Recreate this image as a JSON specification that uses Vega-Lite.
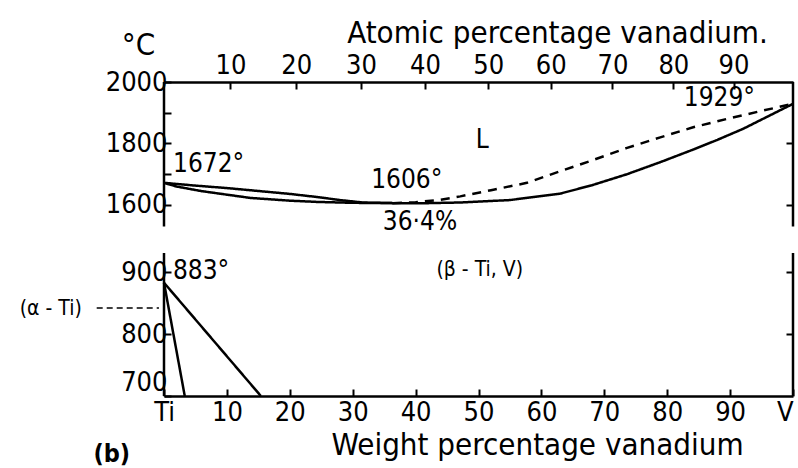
{
  "$schema": "https://vega.github.io/schema/vega-lite/v6.json",
  "width": 629,
  "height": 314,
  "autosize": {"type": "none"},
  "padding": {"left": 164, "top": 82, "right": 5, "bottom": 72},
  "background": "white",
  "config": {
    "view": {"stroke": null},
    "font": "DejaVu Sans Condensed, DejaVu Sans",
    "axis": {
      "labelFont": "DejaVu Sans Condensed, DejaVu Sans",
      "labelFontSize": 27,
      "labelColor": "black",
      "titleFont": "DejaVu Sans Condensed, DejaVu Sans",
      "titleFontSize": 31,
      "titleFontWeight": "normal",
      "titleColor": "black",
      "domainColor": "black",
      "domainWidth": 2.5,
      "tickColor": "black",
      "tickWidth": 2,
      "tickSize": -7,
      "grid": false,
      "labelFlush": false,
      "labelOverlap": false
    }
  },
  "datasets": {
    "curves": [
      {"curve": "liquidus_Ti", "style": "solid", "wt": 0, "T": 1672},
      {"curve": "liquidus_Ti", "style": "solid", "wt": 5, "T": 1663},
      {"curve": "liquidus_Ti", "style": "solid", "wt": 10, "T": 1655},
      {"curve": "liquidus_Ti", "style": "solid", "wt": 13.7, "T": 1648},
      {"curve": "liquidus_Ti", "style": "solid", "wt": 20, "T": 1636},
      {"curve": "liquidus_Ti", "style": "solid", "wt": 24.3, "T": 1626},
      {"curve": "liquidus_Ti", "style": "solid", "wt": 28, "T": 1616},
      {"curve": "liquidus_Ti", "style": "solid", "wt": 31.6, "T": 1608},
      {"curve": "liquidus_Ti", "style": "solid", "wt": 36.4, "T": 1606},
      {"curve": "liquidus_V", "style": "dashed", "wt": 36.4, "T": 1606},
      {"curve": "liquidus_V", "style": "dashed", "wt": 40, "T": 1609},
      {"curve": "liquidus_V", "style": "dashed", "wt": 44, "T": 1617},
      {"curve": "liquidus_V", "style": "dashed", "wt": 47.1, "T": 1628},
      {"curve": "liquidus_V", "style": "dashed", "wt": 52, "T": 1648},
      {"curve": "liquidus_V", "style": "dashed", "wt": 57.7, "T": 1672},
      {"curve": "liquidus_V", "style": "dashed", "wt": 63, "T": 1710},
      {"curve": "liquidus_V", "style": "dashed", "wt": 68.2, "T": 1746},
      {"curve": "liquidus_V", "style": "dashed", "wt": 73.5, "T": 1785},
      {"curve": "liquidus_V", "style": "dashed", "wt": 78.9, "T": 1820},
      {"curve": "liquidus_V", "style": "dashed", "wt": 84, "T": 1852},
      {"curve": "liquidus_V", "style": "dashed", "wt": 89.5, "T": 1880},
      {"curve": "liquidus_V", "style": "dashed", "wt": 95, "T": 1906},
      {"curve": "liquidus_V", "style": "dashed", "wt": 100, "T": 1929},
      {"curve": "solidus", "style": "solid", "wt": 0, "T": 1672},
      {"curve": "solidus", "style": "solid", "wt": 2, "T": 1660},
      {"curve": "solidus", "style": "solid", "wt": 6, "T": 1645},
      {"curve": "solidus", "style": "solid", "wt": 13.7, "T": 1623},
      {"curve": "solidus", "style": "solid", "wt": 20, "T": 1614},
      {"curve": "solidus", "style": "solid", "wt": 24.3, "T": 1610},
      {"curve": "solidus", "style": "solid", "wt": 30, "T": 1607},
      {"curve": "solidus", "style": "solid", "wt": 36.4, "T": 1606},
      {"curve": "solidus", "style": "solid", "wt": 42, "T": 1606},
      {"curve": "solidus", "style": "solid", "wt": 47, "T": 1608},
      {"curve": "solidus", "style": "solid", "wt": 55, "T": 1616},
      {"curve": "solidus", "style": "solid", "wt": 63, "T": 1637},
      {"curve": "solidus", "style": "solid", "wt": 68, "T": 1664},
      {"curve": "solidus", "style": "solid", "wt": 73.6, "T": 1700},
      {"curve": "solidus", "style": "solid", "wt": 79, "T": 1740},
      {"curve": "solidus", "style": "solid", "wt": 84.1, "T": 1780},
      {"curve": "solidus", "style": "solid", "wt": 88, "T": 1812},
      {"curve": "solidus", "style": "solid", "wt": 92.1, "T": 1848},
      {"curve": "solidus", "style": "solid", "wt": 96, "T": 1888},
      {"curve": "solidus", "style": "solid", "wt": 100, "T": 1929},
      {"curve": "alpha_beta", "style": "solid", "wt": 0, "T": 883},
      {"curve": "alpha_beta", "style": "solid", "wt": 3.3, "T": 700},
      {"curve": "beta_alpha", "style": "solid", "wt": 0, "T": 883},
      {"curve": "beta_alpha", "style": "solid", "wt": 15.4, "T": 700}
    ],
    "frame": [
      {"x": 0, "y": 1530, "y2": 2000},
      {"x": 0, "y": 700, "y2": 931},
      {"x": 100, "y": 1530, "y2": 2000},
      {"x": 100, "y": 700, "y2": 931}
    ],
    "leader": [
      {"x": -10.7, "x2": -0.8, "y": 842}
    ],
    "bigLabels": [
      {"text": "1672°", "wt": 7.1, "T": 1733},
      {"text": "1606°", "wt": 38.6, "T": 1681},
      {"text": "36·4%", "wt": 40.7, "T": 1545},
      {"text": "1929°", "wt": 88.3, "T": 1948},
      {"text": "883°", "wt": 5.9, "T": 902},
      {"text": "L", "wt": 50.6, "T": 1812}
    ],
    "smallLabels": [
      {"text": "(β - Ti, V)", "wt": 50.2, "T": 903},
      {"text": "(α - Ti)", "wt": -18, "T": 841}
    ],
    "panel": [
      {"text": "(b)", "wt": -8.3, "T": 606}
    ]
  },
  "layer": [
    {
      "data": {"name": "curves"},
      "mark": {"type": "line", "color": "black", "strokeWidth": 2.5, "clip": false},
      "encoding": {
        "x": {
          "field": "wt", "type": "quantitative",
          "scale": {"domain": [0, 100], "nice": false, "zero": false},
          "axis": {
            "orient": "bottom",
            "values": [0, 10, 20, 30, 40, 50, 60, 70, 80, 90, 100],
            "labelExpr": "datum.value == 0 ? 'Ti' : datum.value == 100 ? 'V' : datum.label",
            "labelAlign": {"condition": {"test": "datum.value == 100", "value": "right"}, "value": "center"},
            "labelPadding": 10,
            "title": "Weight percentage vanadium",
            "titleX": 373, "titleY": 49,
            "titleAlign": "center", "titleBaseline": "middle"
          }
        },
        "y": {
          "field": "T", "type": "quantitative",
          "scale": {"domain": [700, 931, 1530, 2000], "range": [314, 171, 144.5, 0], "nice": false, "zero": false},
          "axis": {
            "orient": "left",
            "domain": false,
            "values": [700, 800, 900, 1600, 1700, 1800, 1900, 2000],
            "labelExpr": "datum.value == 1700 || datum.value == 1900 ? '' : datum.label",
            "labelBaseline": {"condition": {"test": "datum.value == 700", "value": "bottom"}, "value": "middle"},
            "format": "d",
            "labelPadding": 4,
            "title": "°C",
            "titleAngle": 0,
            "titleX": -26, "titleY": -37,
            "titleAlign": "center", "titleBaseline": "middle"
          }
        },
        "detail": {"field": "curve"},
        "strokeDash": {
          "field": "style", "type": "nominal",
          "scale": {"domain": ["solid", "dashed"], "range": [[1, 0], [9, 7]]},
          "legend": null
        }
      }
    },
    {
      "data": {"name": "frame"},
      "mark": {"type": "rule", "color": "black", "strokeWidth": 2.5, "clip": false},
      "encoding": {
        "x": {"field": "x", "type": "quantitative", "axis": null},
        "y": {
          "field": "y", "type": "quantitative",
          "axis": {
            "orient": "right",
            "domain": false,
            "labels": false,
            "title": null,
            "values": [800, 900, 1600, 1800]
          }
        },
        "y2": {"field": "y2"}
      }
    },
    {
      "data": {"name": "leader"},
      "mark": {"type": "rule", "color": "black", "strokeWidth": 1.5, "strokeDash": [6, 4], "clip": false},
      "encoding": {
        "x": {"field": "x", "type": "quantitative", "axis": null},
        "x2": {"field": "x2"},
        "y": {"field": "y", "type": "quantitative", "axis": null}
      }
    },
    {
      "data": {"name": "bigLabels"},
      "mark": {"type": "text", "fontSize": 26, "font": "DejaVu Sans Condensed, DejaVu Sans", "color": "black", "align": "center", "baseline": "middle", "clip": false},
      "encoding": {
        "x": {
          "field": "wt", "type": "quantitative",
          "axis": {
            "orient": "top",
            "values": [10.57, 21.01, 31.32, 41.5, 51.55, 61.48, 71.29, 80.98, 90.55],
            "labelExpr": "format(round(100 * (datum.value / 50.94) / ((datum.value / 50.94) + ((100 - datum.value) / 47.87))), 'd')",
            "labelPadding": 10,
            "title": "Atomic percentage vanadium.",
            "titleX": 393, "titleY": -49,
            "titleAlign": "center", "titleBaseline": "middle"
          }
        },
        "y": {"field": "T", "type": "quantitative", "axis": null},
        "text": {"field": "text"}
      }
    },
    {
      "data": {"name": "smallLabels"},
      "mark": {"type": "text", "fontSize": 21, "font": "DejaVu Sans Condensed, DejaVu Sans", "color": "black", "align": "center", "baseline": "middle", "clip": false},
      "encoding": {
        "x": {"field": "wt", "type": "quantitative", "axis": null},
        "y": {"field": "T", "type": "quantitative", "axis": null},
        "text": {"field": "text"}
      }
    },
    {
      "data": {"name": "panel"},
      "mark": {"type": "text", "fontSize": 25, "fontWeight": "bold", "font": "DejaVu Sans Condensed, DejaVu Sans", "color": "black", "align": "center", "baseline": "middle", "clip": false},
      "encoding": {
        "x": {"field": "wt", "type": "quantitative", "axis": null},
        "y": {"field": "T", "type": "quantitative", "axis": null},
        "text": {"field": "text"}
      }
    }
  ],
  "resolve": {"axis": {"x": "independent", "y": "independent"}}
}
